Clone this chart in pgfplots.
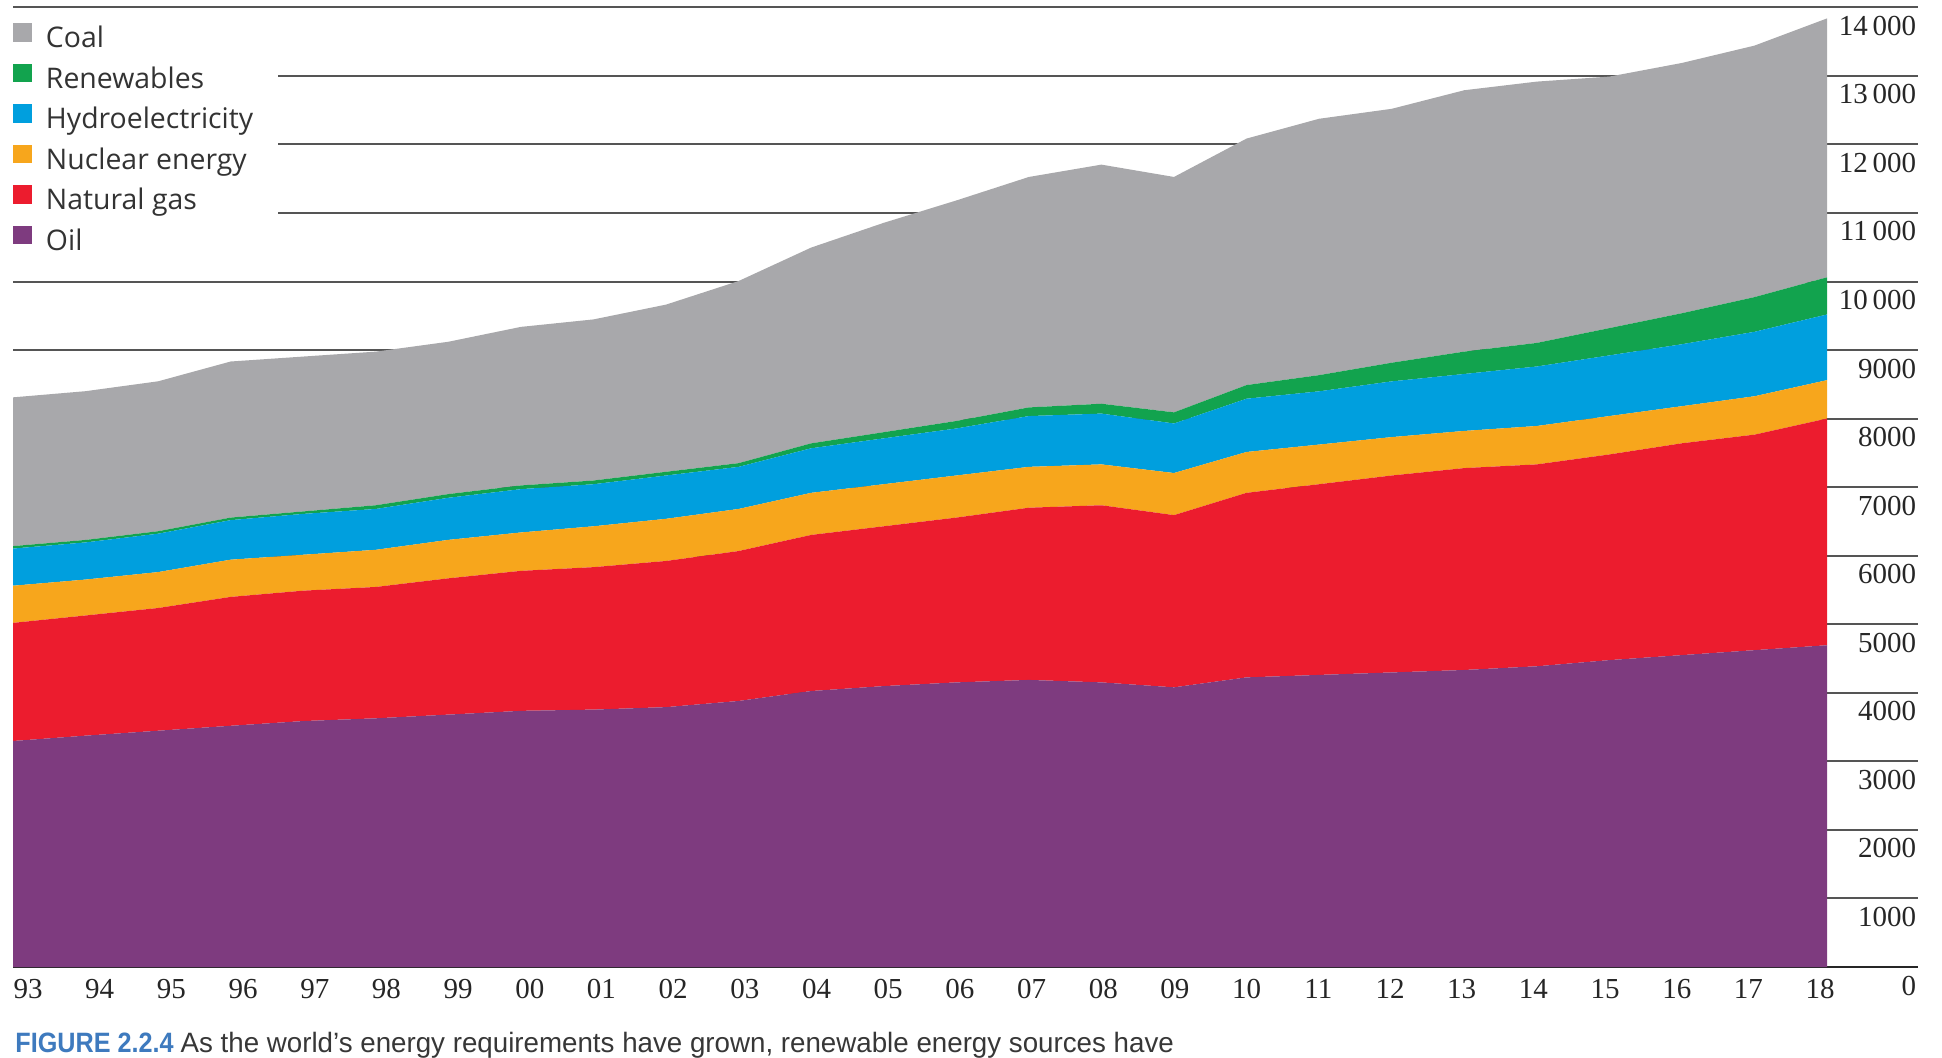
\documentclass[border=0pt]{standalone}
\usepackage{pgfplots}
\pgfplotsset{compat=1.18}
\usepackage{pgfplotstable}
\usepackage{fontspec}
\setmainfont{Liberation Serif}
\newfontfamily\legendfont{Open Sans}
\newfontfamily\capfont{Liberation Sans}[FakeStretch=0.99]
\newfontfamily\capbold{Liberation Sans Bold}[FakeStretch=0.9]

\definecolor{coal}{RGB}{168,168,171}
\definecolor{renew}{RGB}{18,163,78}
\definecolor{hydro}{RGB}{0,159,222}
\definecolor{nuclear}{RGB}{247,166,28}
\definecolor{gas}{RGB}{236,28,46}
\definecolor{oil}{RGB}{126,59,127}
\definecolor{gridgray}{RGB}{85,85,85}
\definecolor{capblue}{RGB}{62,122,190}
\definecolor{capgray}{RGB}{55,55,55}

% World primary energy consumption by source (Mtoe), 1993-2018
% x = 0 is 1993
\pgfplotstableread{
x  oil  gas  nuc  hyd  ren  coal
0  3297 1723 542  542  36   2170
1  3375 1753 524  542  36   2170
2  3447 1790 524  560  36   2187
3  3519 1880 543  577  37   2277
4  3588 1902 524  596  36   2259
5  3628 1916 542  596  54   2241
6  3682 1988 561  614  54   2222
7  3737 2042 560  632  54   2313
8  3755 2078 596  614  54   2350
9  3791 2132 615  632  54   2439
10 3881 2187 614  614  54   2657
11 4026 2277 614  650  72   2856
12 4098 2331 614  669  90   3054
13 4152 2404 614  686  109  3217
14 4188 2512 596  741  126  3362
15 4152 2584 596  741  144  3488
16 4080 2512 614  723  162  3434
17 4225 2692 596  777  199  3596
18 4261 2782 578  777  236  3740
19 4297 2873 560  813  272  3704
20 4333 2945 542  831  326  3813
21 4387 2945 560  868  344  3812
22 4477 3000 560  885  398  3669
23 4550 3090 541  904  452  3651
24 4622 3144 560  940  506  3669
25 4694 3307 560  958  542  3777
}\energy

\begin{document}
\begin{tikzpicture}
\useasboundingbox (-6.5pt,-45pt) rectangle (964.5pt,483.5pt);
\begin{axis}[
  at={(0pt,0pt)}, anchor=south west,
  scale only axis, width=952.5pt, height=479.85pt,
  xmin=0, xmax=26.254, ymin=0, ymax=14000,
  stack plots=y,
  axis line style={draw=none},
  major tick length=0pt,
  scaled y ticks=false,
  xtick={0.207,1.195,2.183,3.171,4.159,5.147,6.134,7.122,8.110,9.098,10.086,11.074,12.062,13.050,14.038,15.026,16.013,17.001,17.989,18.977,19.965,20.953,21.941,22.929,23.917,24.905},
  xticklabels={93,94,95,96,97,98,99,00,01,02,03,04,05,06,07,08,09,10,11,12,13,14,15,16,17,18},
  ytick={0,1000,...,14000},
  yticklabels={0,1000,2000,3000,4000,5000,6000,7000,8000,9000,10\,000,11\,000,12\,000,13\,000,14\,000},
  yticklabel pos=right,
  ymajorgrids,
  grid style={line width=1pt, color=gridgray},
  tick label style={inner sep=0pt, text=black!85, font=\fontsize{14.5}{16}\selectfont},
  xticklabel style={anchor=base, yshift=-15.6pt},
  yticklabel style={anchor=base east, xshift=-0.75pt, yshift=-14pt},
  legend image code/.code={\fill[#1] (0pt,-0.65pt) rectangle (9.3pt,8.65pt);},
  reverse legend,
  legend cell align=left,
  legend style={at={(rel axis cs:0,0.9837)}, anchor=north west,
    xshift=-12.5pt, inner xsep=12.5pt, inner ysep=0pt,
    draw=none, fill=white, text=black!80,
    font=\legendfont\fontsize{14.2}{16}\selectfont,
    nodes={inner sep=0pt, text height=10pt, text depth=3pt},
    row sep=5.1pt, column sep=7pt},
]
\addplot[fill=oil, draw=none] table[x=x, y=oil] {\energy} \closedcycle;
\addlegendentry{Oil}
\addplot[fill=gas, draw=none] table[x=x, y=gas] {\energy} \closedcycle;
\addlegendentry{Natural gas}
\addplot[fill=nuclear, draw=none] table[x=x, y=nuc] {\energy} \closedcycle;
\addlegendentry{Nuclear energy}
\addplot[fill=hydro, draw=none] table[x=x, y=hyd] {\energy} \closedcycle;
\addlegendentry{Hydroelectricity}
\addplot[fill=renew, draw=none] table[x=x, y=ren] {\energy} \closedcycle;
\addlegendentry{Renewables}
\addplot[fill=coal, draw=none] table[x=x, y=coal] {\energy} \closedcycle;
\addlegendentry{Coal}
% baseline of the chart, drawn over the filled areas
\draw[line width=1.3pt, color=black!85] (rel axis cs:0,0) -- (rel axis cs:1,0);
\end{axis}
\node[anchor=base west, inner sep=0pt] at (1pt,-42.5pt)
  {\fontsize{14}{16}\selectfont{\capbold\color{capblue}FIGURE 2.2.4} \capfont\color{capgray}As the world’s energy requirements have grown, renewable energy sources have};
\end{tikzpicture}
\end{document}
